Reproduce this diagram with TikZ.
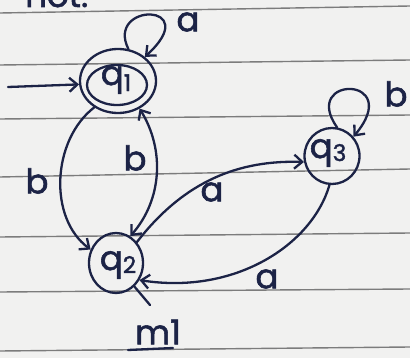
\documentclass[tikz,border=0pt]{standalone}
\usepackage{fontspec}
\setmainfont[FakeBold=1.6]{Poppins}
\usetikzlibrary{arrows.meta,shapes.geometric}
\definecolor{ink}{HTML}{1C2346}
\definecolor{paper}{HTML}{F1F1F0}
\definecolor{rule}{HTML}{7C7C7C}
\begin{document}
\begin{tikzpicture}[x=1pt,y=-1pt,
  pen/.style={draw=ink,line width=2.3pt,line cap=round,line join=round},
  tip/.tip={Straight Barb[length=8pt,width=14pt,line width=2.3pt]},
  edge/.style={pen,-tip},
  both/.style={pen,tip-tip},
  state/.style={pen,ellipse,inner sep=0pt},
  lbl/.style={text=ink,font=\fontsize{34}{34}\selectfont,inner sep=0pt},
]
% paper and its ruling
\fill[paper] (0,0) rectangle (410,358);
\useasboundingbox (0,0) rectangle (410,358);
\clip (0,0) rectangle (410,358);
\foreach \a/\b in {13/6, 65/60, 119/115, 177/169, 237/233, 292/289, 351/347}
  \draw[rule,line width=1.4pt] (0,\a) -- (410,\b);

% heading, cut at the top edge
\node[lbl,anchor=base west] (head) at (25,7) {not:};

% states
\node[state,minimum width=60,minimum height=40] (q1) at (117,85) {};
\node[state,minimum width=76,minimum height=64] (q1o) at (118,81) {};
\node[lbl] (q1txt) at (116,80) {q\raisebox{-6pt}{\fontsize{23}{23}\selectfont 1}};
\node[state,minimum width=54,minimum height=60] (q2) at (116,263) {};
\node[lbl] (q2txt) at (118,265) {q\raisebox{-3pt}{\fontsize{23}{23}\selectfont 2}};
\node[state,minimum width=55,minimum height=56] (q3) at (332,156) {};
\node[lbl] (q3txt) at (328,153) {q\raisebox{-3pt}{\fontsize{23}{23}\selectfont 3}};

% start arrow
\coordinate (start) at (8,87);
\draw[edge] (start) -- (q1o.185);

% self loops
\draw[edge] (q1o.72) .. controls (105,2) and (205,2) .. (q1o.42);
\node[lbl] (la1) at (188,22) {a};
\draw[edge] (q3.80) .. controls (300,75) and (405,75) .. (q3.42);
\node[lbl] (lb3) at (396,94) {b};

% q1 <-> q2
\draw[edge] (q1o.228) .. controls (52,140) and (48,218) .. (q2.152);
\node[lbl] (lb1) at (37,181) {b};
\draw[both] (q1o.308) .. controls (165,150) and (162,200) .. (q2.62);
\node[lbl] (lb2) at (135,158) {b};

% q2 <-> q3
\draw[edge] (q2.45) .. controls (185,180) and (240,160) .. (q3.192);
\node[lbl] (la2) at (212,192) {a};
\draw[edge] (q3.265) .. controls (312,245) and (235,295) .. (q2.-36);
\node[lbl] (la3) at (267,279) {a};
\coordinate (tail) at (150,305);
\draw[pen] (q2.-52) -- (tail);

% machine name
\node[lbl] (m1) at (158,332) {m1};
\draw[pen] (128,350) -- (173,348);
\end{tikzpicture}
\end{document}
